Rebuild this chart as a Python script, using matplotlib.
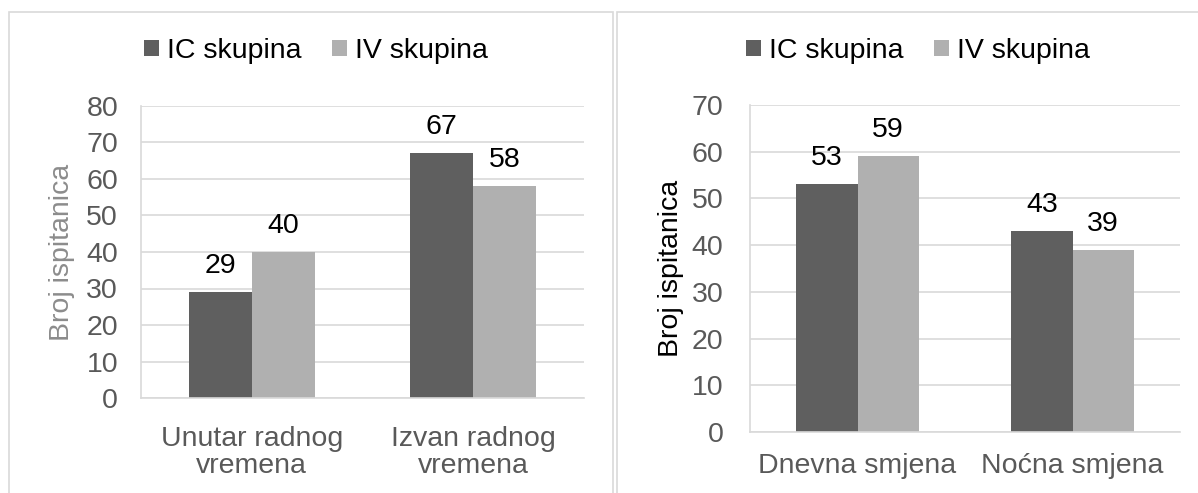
import matplotlib.pyplot as plt
import numpy as np
from matplotlib.patches import Rectangle

plt.rcParams['font.family'] = ['Liberation Sans', 'DejaVu Sans']

# Data
series_names = ['IC skupina', 'IV skupina']
left_categories = ['Unutar radnog\nvremena', 'Izvan radnog\nvremena']
left_ic = [29, 67]
left_iv = [40, 58]
right_categories = ['Dnevna smjena', 'Noćna smjena']
right_ic = [53, 43]
right_iv = [59, 39]
ylabel = 'Broj ispitanica'

DARK = '#5f5f5f'
LIGHT = '#b0b0b0'
GRID = '#d9d9d9'
TICK = '#595959'
FS = 20.5

fig = plt.figure(figsize=[11.98, 4.93], dpi=100)
W, H = 1198.0, 493.0


def px_axes(x0, x1, ytop, ybot):
    return fig.add_axes([x0 / W, 1 - ybot / H, (x1 - x0) / W, (ybot - ytop) / H])


# Panel borders
fig.patches.append(Rectangle((9 / W, -0.05), (613 - 9) / W, 1.05 - 12 / H, transform=fig.transFigure,
                             fill=False, edgecolor=GRID, linewidth=1.2))
fig.patches.append(Rectangle((617 / W, -0.05), 0.5, 1.05 - 12 / H, transform=fig.transFigure,
                             fill=False, edgecolor=GRID, linewidth=1.2))


def draw(ax, cats, ic, iv, ymax, ylabel_color, legend_center, ypad, xpad, lpad):
    x = np.arange(len(cats))
    w = 0.284
    b1 = ax.bar(x - w / 2, ic, w, color=DARK, label=series_names[0])
    b2 = ax.bar(x + w / 2, iv, w, color=LIGHT, label=series_names[1])
    ax.bar_label(b1, padding=9.5, fontsize=FS, color='black')
    ax.bar_label(b2, padding=9.5, fontsize=FS, color='black')
    ax.set_xlim(-0.5, len(cats) - 0.5)
    ax.set_ylim(0, ymax)
    ax.set_yticks(np.arange(0, ymax + 1, 10))
    ax.set_xticks(x)
    ax.set_xticklabels(cats, fontsize=FS, color=TICK, linespacing=1.05)
    ax.tick_params(axis='y', length=0, pad=ypad, labelsize=FS, labelcolor=TICK)
    ax.tick_params(axis='x', length=0, pad=xpad)
    ax.grid(True, axis='y', color=GRID, linewidth=1.2)
    ax.set_axisbelow(True)
    for s in ['top', 'right']:
        ax.spines[s].set_visible(False)
    ax.spines['left'].set_color(GRID)
    ax.spines['bottom'].set_color(GRID)
    ax.spines['left'].set_linewidth(1.2)
    ax.spines['bottom'].set_linewidth(1.2)
    ax.set_ylabel(ylabel, fontsize=FS, color=ylabel_color, labelpad=lpad)
    ax.legend(loc='center', bbox_to_anchor=(legend_center / W, 1 - 51 / H),
              bbox_transform=fig.transFigure, ncol=2, frameon=False, fontsize=FS,
              handlelength=0.5, handleheight=0.5, handletextpad=0.28, columnspacing=1.1)


ax1 = px_axes(141, 584, 106, 398)
draw(ax1, left_categories, left_ic, left_iv, 80, '#8c8c8c', 316, 16.5, 20, 8)

ax2 = px_axes(750, 1180, 105, 432)
draw(ax2, right_categories, right_ic, right_iv, 70, 'black', 918, 19, 15, 6)

plt.savefig('out.png', dpi=100)
plt.close(fig)
